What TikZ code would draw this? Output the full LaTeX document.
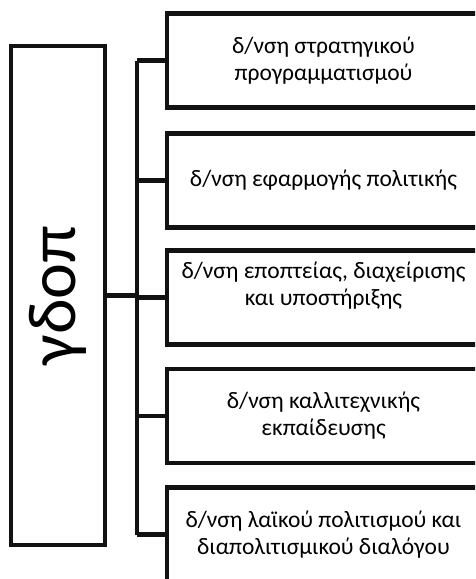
\documentclass[tikz,border=0pt]{standalone}
\usepackage{fontspec}
\setmainfont{Carlito}
\begin{document}
\begin{tikzpicture}[x=1pt,y=-1pt,
  ln/.style={line width=4.5pt, draw=black!93},
  unit/.style={ln, rectangle, minimum width=313pt, minimum height=94pt, inner sep=0pt,
    align=center, font=\fontsize{23.5}{27}\selectfont},
  head/.style={ln, rectangle, minimum width=94pt, minimum height=499pt, inner sep=0pt}]
\useasboundingbox (0,0) rectangle (475,579);
\clip (0,0) rectangle (475,579);
\node[head] (g) at (58,295.5) {\rotatebox{90}{\fontsize{68}{68}\selectfont γδοπ}};
\node[unit] (b1) at (323.5,60.5) {δ/νση στρατηγικού\\προγραμματισμού};
\node[unit] (b2) at (323.5,180.5) {δ/νση εφαρμογής πολιτικής};
\node[unit] (b3) at (323.5,297.5) {δ/νση εποπτείας, διαχείρισης\\και υποστήριξης\\\mbox{}};
\node[unit] (b4) at (323.5,416) {δ/νση καλλιτεχνικής\\εκπαίδευσης};
\node[unit] (b5) at (323.5,534.5) {δ/νση λαϊκού πολιτισμού και\\διαπολιτισμικού διαλόγου};
\coordinate (tx) at (137,0);
\draw[ln] (b1.west -| tx) -- (b5.west -| tx);
\draw[ln] (g.east) -- (g.east -| tx);
\foreach \b in {b1,b2,b3,b4,b5} \draw[ln] (\b.west -| tx) -- (\b.west);
\end{tikzpicture}
\end{document}
